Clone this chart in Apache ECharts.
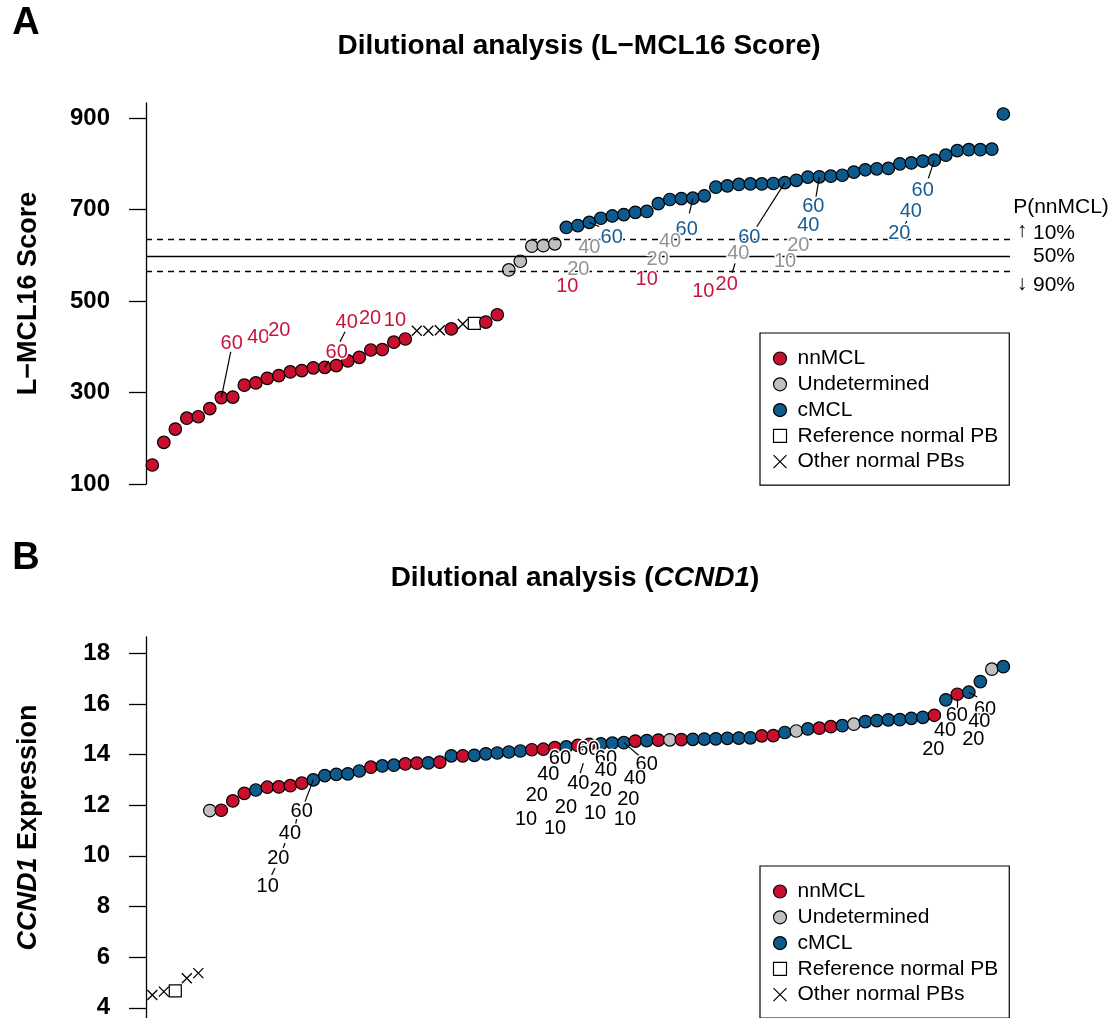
<!DOCTYPE html>
<html><head><meta charset="utf-8">
<script src="https://cdn.jsdelivr.net/npm/echarts@6/dist/echarts.min.js"></script>
<style>html,body{margin:0;padding:0;background:#fff}#c{width:1115px;height:1018px}</style>
</head><body><div id="c"></div>
<script>
// ---------- data ----------
const scoreA = [141.5,191,220,244,247,265,289,290,316,321,331,337,345,348,354,355,359,369,377,393,394,410,417,
  435,435,436,439,450,451,454,470,568,587,620,621,625,661,665,672,681,686,689,694,696,713,722,724,725,730,749,752,
  755,756,756,757,759,764,771,771.5,773,775,782,787,789,790,800,802,806,808,819,829,831,831,832,909];
const groupA = ['r','r','r','r','r','r','r','r','r','r','r','r','r','r','r','r','r','r','r','r','r','r','r',
  'x','x','x','r','x','s','r','r','g','g','g','g','g',
  'b','b','b','b','b','b','b','b','b','b','b','b','b','b','b','b','b','b','b','b','b','b','b','b','b','b','b','b','b',
  'b','b','b','b','b','b','b','b','b','b'];
const exprB = [4.51,4.64,4.67,5.17,5.37,11.79,11.80,12.17,12.47,12.60,12.71,12.72,12.77,12.87,13.0,13.17,13.22,13.24,
  13.35,13.50,13.55,13.58,13.63,13.66,13.67,13.70,13.95,13.95,13.97,14.03,14.06,14.10,14.14,14.19,14.21,14.27,14.30,
  14.36,14.40,14.42,14.45,14.47,14.53,14.55,14.57,14.58,14.59,14.60,14.61,14.62,14.64,14.65,14.66,14.74,14.75,14.87,
  14.93,15.01,15.04,15.10,15.14,15.20,15.30,15.34,15.37,15.38,15.43,15.47,15.55,16.16,16.38,16.46,16.88,17.37,17.47];
const groupB = ['x','x','s','x','x','g','r','r','r','b','r','r','r','r','b','b','b','b','b','r','b','b','r','r','b','r',
  'b','r','b','b','b','b','b','r','r','r','b','r','r','b','b','b','r','b','r','g','r','b','b','b','b','b','b','r','r',
  'b','g','b','r','r','b','g','b','b','b','b','b','b','r','b','r','b','b','g','b'];
const tickA = [100,300,500,700,900];
const tickB = [4,6,8,10,12,14,16,18];
const thresholdA = [635,599,566];           // P(nnMCL) 10%, 50%, 90%
const thresholdType = ['dashed','solid','dashed'];
const legendNames = ['nnMCL','Undetermined','cMCL','Reference normal PB','Other normal PBs'];
const legendCodes = ['r','g','b','s','x'];
// dilution labels: [x index, value, text, colour group]
const labelsA = [
  [6.90,407.5,'60','r'],[9.22,420.6,'40','r'],[11.04,436.6,'20','r'],
  [16.03,387.8,'60','r'],[16.90,452.5,'40','r'],[18.93,462.1,'20','r'],[21.10,458.4,'10','r'],
  [39.95,639.2,'60','b'],[38.00,616.5,'40','g'],[37.04,569.3,'20','g'],[36.09,532.8,'10','r'],
  [46.47,656.7,'60','b'],[45.02,631.1,'40','g'],[43.95,591.1,'20','g'],[42.99,547.4,'10','r'],
  [51.91,639.2,'60','b'],[50.96,604.2,'40','g'],[49.95,536.5,'20','r'],[47.91,520.3,'10','r'],
  [57.48,706.1,'60','b'],[57.04,666.1,'40','b'],[56.17,622.4,'20','g'],[55.02,585.9,'10','g'],
  [66.99,742.6,'60','b'],[65.95,696.7,'40','b'],[64.96,648.0,'20','b']];
const leadersA = [[6,289,6.82,389],[15,355,15.35,369],[16.32,411,16.76,433],[38,672,38.85,663],
  [47,724.5,46.70,691.7],[55,759,52.56,662.4],[50.43,561.8,50.67,582.4],[58,771,57.71,728],[68,807.5,67.48,768.2],
  [65.45,667,65.6,675]];
const labelsB = [
  [12.99,11.75,'60'],[11.97,10.89,'40'],[10.96,9.91,'20'],[10.03,8.79,'10'],
  [35.45,13.85,'60'],[34.43,13.23,'40'],[33.43,12.37,'20'],[32.50,11.45,'10'],
  [37.91,14.18,'60'],[37.04,12.87,'40'],[35.97,11.92,'20'],[35.02,11.09,'10'],
  [39.45,13.85,'60'],[39.45,13.37,'40'],[38.99,12.60,'20'],[38.50,11.68,'10'],
  [42.99,13.59,'60'],[41.97,13.07,'40'],[41.39,12.24,'20'],[41.10,11.45,'10'],
  [69.95,15.56,'60'],[68.93,14.94,'40'],[67.91,14.21,'20'],
  [72.41,15.79,'60'],[71.91,15.30,'40'],[71.39,14.58,'20']];
const leadersB = [[14,13.0,13.28,12.14],[12.55,11.45,12.45,11.22],[11.54,10.51,11.39,10.31],[10.67,9.52,10.38,9.25],
  [37.48,13.66,37.2,13.26],[41,14.47,42.41,13.92],[69.98,16.2,69.95,15.84],[71,16.46,71.72,16.27]];

// ---------- styles ----------
const FF = "'Liberation Sans', Arial, Helvetica, sans-serif";
const RED = '#C8102E', BLUE = '#0F5A8C', GRAY = '#C0C0C2';
const TXT = {r:'#C8143C', g:'#939393', b:'#1A5C91', k:'#000'};
const CROSS = 'path://M0,0L10,10M10,0L0,10';
const STY = {
  r:{symbol:'circle', symbolSize:12.5, itemStyle:{color:RED, borderColor:'#000', borderWidth:1.2, opacity:1}},
  g:{symbol:'circle', symbolSize:12.5, itemStyle:{color:GRAY, borderColor:'#000', borderWidth:1.2, opacity:1}},
  b:{symbol:'circle', symbolSize:12.5, itemStyle:{color:BLUE, borderColor:'#000', borderWidth:1.2, opacity:1}},
  s:{symbol:'rect', symbolSize:12, itemStyle:{color:'#fff', borderColor:'#000', borderWidth:1.2, opacity:1}},
  x:{symbol:CROSS, symbolSize:10, itemStyle:{color:'none', borderColor:'#000', borderWidth:1.3, opacity:1}}
};
function pts(vals, groups){
  return vals.map((v,i)=>{const s=STY[groups[i]];
    return {value:[i,v], symbol:s.symbol, symbolSize:s.symbolSize, itemStyle:s.itemStyle};});
}
function labs(arr){
  return arr.map(a=>({value:[a[0],a[1]], label:{formatter:a[2], color:TXT[a[3]||'k']}}));
}
function leads(arr){ return arr.map(a=>({coords:[[a[0],a[1]],[a[2],a[3]]]})); }

function yAxis(grid, min, max, ticks, name){
  return {type:'value', gridIndex:grid, min:min, max:max,
    axisLine:{show:true, onZero:false, lineStyle:{color:'#000', width:1.3}},
    axisTick:{show:true, inside:false, length:17, customValues:ticks, lineStyle:{color:'#000', width:1.3}},
    axisLabel:{customValues:ticks, margin:36, fontSize:24, fontWeight:'bold', color:'#000', fontFamily:FF},
    splitLine:{show:false},
    name:name, nameLocation:'middle', nameRotate:90, nameGap:104,
    nameTextStyle:{fontSize:27, fontWeight:'bold', color:'#000', fontFamily:FF,
      rich:{i:{fontSize:27, fontWeight:'bold', fontStyle:'italic', color:'#000', fontFamily:FF}}}
  };
}
function xAxis(grid){ return {type:'value', gridIndex:grid, min:-0.548, max:74.58, show:false}; }

function labelSeries(arr, g){
  return {type:'scatter', xAxisIndex:g, yAxisIndex:g, z:5, silent:true, symbolSize:0.1,
    itemStyle:{color:'#fff', opacity:1}, clip:false,
    label:{show:true, position:'inside', fontSize:20, fontFamily:FF, opacity:1,
      textBorderColor:'#fff', textBorderWidth:3},
    data:labs(arr)};
}
function leaderSeries(arr, g){
  return {type:'lines', coordinateSystem:'cartesian2d', xAxisIndex:g, yAxisIndex:g, z:4, silent:true,
    lineStyle:{color:'#000', width:1.2, opacity:1}, data:leads(arr)};
}
function legend(top){
  return {data:legendNames, orient:'vertical', left:760, top:top, height:200, selectedMode:false,
    padding:[15,11,13,11], itemWidth:13, itemHeight:13, itemGap:4.8,
    borderColor:'#000', borderWidth:1.2, borderRadius:0,
    itemStyle:{borderColor:'inherit', borderWidth:1.2, opacity:1},
    textStyle:{fontSize:21, color:'#000', fontFamily:FF, padding:[0,0,0,6]}};
}

const legendSeries = legendNames.map((n,k)=>{const s=STY[legendCodes[k]];
  return {type:'scatter', name:n, xAxisIndex:0, yAxisIndex:0, symbol:s.symbol, symbolSize:s.symbolSize,
    itemStyle:s.itemStyle, data:[]};});

const txt = (t,x,y,fs,extra)=>({type:'text', x:x, y:y, silent:true,
  style:Object.assign({text:t, fontSize:fs, fontFamily:FF, fill:'#000', align:'center', verticalAlign:'middle'}, extra||{})});

const option = {
  animation:false,
  backgroundColor:'#fff',
  grid:[{left:146, top:103, width:864, height:381, outerBoundsMode:'none'},
        {left:146, top:637, width:864, height:381, outerBoundsMode:'none'}],
  xAxis:[xAxis(0), xAxis(1)],
  yAxis:[yAxis(0,100,933,tickA,'L\u2212MCL16 Score'), yAxis(1,3.6,18.64,tickB,'{i|CCND1} Expression')],
  legend:[legend(333), legend(866)],
  series:[
    {type:'scatter', name:'pointsA', xAxisIndex:0, yAxisIndex:0, z:2, data:pts(scoreA, groupA),
      markLine:{silent:true, symbol:'none', label:{show:false},
        data:thresholdA.map((v,k)=>({yAxis:v, lineStyle:{type: thresholdType[k]==='dashed'?[6,5]:'solid', color:'#000', width:1.3}}))}},
    {type:'scatter', name:'pointsB', xAxisIndex:1, yAxisIndex:1, z:2, data:pts(exprB, groupB)},
    leaderSeries(leadersA,0), leaderSeries(leadersB,1),
    labelSeries(labelsA,0), labelSeries(labelsB,1)
  ].concat(legendSeries),
  graphic:[
    txt('A',26,24,38,{fontWeight:'bold'}),
    txt('B',26,559,38,{fontWeight:'bold'}),
    txt('Dilutional analysis (L\u2212MCL16 Score)',579,46,28,{fontWeight:'bold'}),
    txt('Dilutional analysis ({i|CCND1})',575,578,28,{fontWeight:'bold',
      rich:{i:{fontSize:28, fontWeight:'bold', fontStyle:'italic', fontFamily:FF, fill:'#000'}}}),
    txt('P(nnMCL)',1061,207,21),
    txt('\u2191',1022,231,21),
    txt('10%',1054,233,21),
    txt('50%',1054,256,21),
    txt('\u2193',1022,284,21),
    txt('90%',1054,285,21)
  ]
};
const chart = echarts.init(document.getElementById('c'), null, {renderer:'canvas'});
chart.setOption(option);
</script></body></html>
